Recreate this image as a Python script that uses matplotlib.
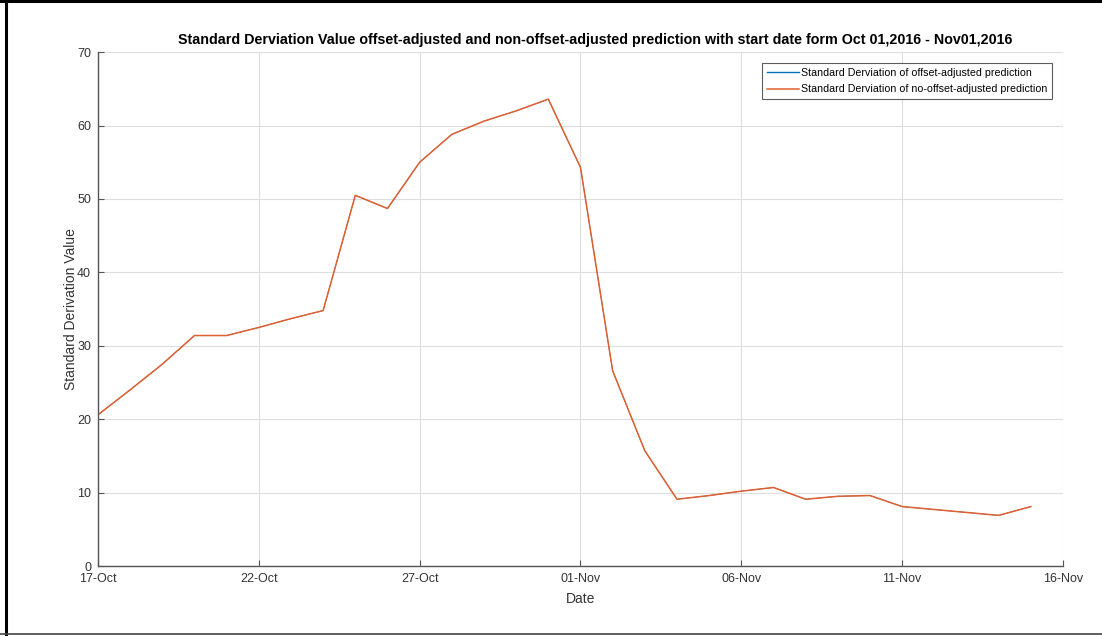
import matplotlib
matplotlib.use("Agg")
import matplotlib.pyplot as plt
import matplotlib.dates as mdates
from matplotlib.lines import Line2D
import datetime as dt

# ---- data ----
dates = ["2016-10-17", "2016-10-18", "2016-10-19", "2016-10-20", "2016-10-21",
         "2016-10-22", "2016-10-23", "2016-10-24", "2016-10-25", "2016-10-26",
         "2016-10-27", "2016-10-28", "2016-10-29", "2016-10-30", "2016-10-31",
         "2016-11-01", "2016-11-02", "2016-11-03", "2016-11-04", "2016-11-05",
         "2016-11-06", "2016-11-07", "2016-11-08", "2016-11-09", "2016-11-10",
         "2016-11-11", "2016-11-12", "2016-11-13", "2016-11-14", "2016-11-15"]
std_offset = [20.6, 24.0, 27.5, 31.4, 31.4, 32.5, 33.7, 34.8, 50.5, 48.7,
              55.0, 58.8, 60.6, 62.0, 63.6, 54.3, 26.6, 15.7, 9.1, 9.6,
              10.2, 10.7, 9.1, 9.5, 9.6, 8.1, 7.7, 7.3, 6.9, 8.1]
std_no_offset = [20.6, 24.0, 27.5, 31.4, 31.4, 32.5, 33.7, 34.8, 50.5, 48.7,
                 55.0, 58.8, 60.6, 62.0, 63.6, 54.3, 26.6, 15.7, 9.1, 9.6,
                 10.2, 10.7, 9.1, 9.5, 9.6, 8.1, 7.7, 7.3, 6.9, 8.1]
labels = ["Standard Derviation of offset-adjusted prediction",
          "Standard Derviation of no-offset-adjusted prediction"]
title = ("Standard Derviation Value offset-adjusted and non-offset-adjusted "
         "prediction with start date form Oct 01,2016 - Nov01,2016")
x = [dt.datetime.strptime(d, "%Y-%m-%d") for d in dates]

plt.rcParams['font.family'] = ['Liberation Sans', 'DejaVu Sans']
TXT = '#333333'

fig = plt.figure(figsize=(11.02, 6.36), dpi=100)
# outer frame of the screenshot (left, top, bottom)
fig.lines.append(Line2D([0.0055, 0.0055], [0.002, 1.0], transform=fig.transFigure,
                        color='black', linewidth=2.2))
fig.lines.append(Line2D([0.0, 1.0], [0.998, 0.998], transform=fig.transFigure,
                        color='black', linewidth=2.2))
fig.lines.append(Line2D([0.0, 1.0], [0.003, 0.003], transform=fig.transFigure,
                        color='#444444', linewidth=1.2))

ax = fig.add_axes([0.0889, 0.110, 0.8757, 0.808])

ax.plot(x, std_offset, color='#0072BD', linewidth=0.5, label=labels[0])
ax.plot(x, std_no_offset, color='#E06030', linewidth=1.1, label=labels[1])

ax.set_xlim(dt.datetime(2016, 10, 17), dt.datetime(2016, 11, 16))
ax.set_ylim(0, 70)
ax.set_yticks(range(0, 71, 10))
ax.set_xticks([dt.datetime(2016, 10, 17) + dt.timedelta(days=5 * i) for i in range(7)])
ax.xaxis.set_major_formatter(mdates.DateFormatter("%d-%b"))

for s in ['top', 'right']:
    ax.spines[s].set_visible(False)
for s in ['left', 'bottom']:
    ax.spines[s].set_color('#555555')
    ax.spines[s].set_linewidth(1.0)
ax.tick_params(direction='in', length=4, width=0.8, color='#555555',
               labelcolor=TXT, labelsize=9, pad=5)
ax.grid(True, color='#dedede', linewidth=0.8)
ax.set_axisbelow(True)

ax.set_title(title, fontsize=10.3, fontweight='bold', color='black', pad=6, x=0.515)
ax.set_xlabel("Date", fontsize=10, color=TXT, labelpad=5)
ax.set_ylabel("Standard Derivation Value", fontsize=10, color=TXT, labelpad=-1)

leg = ax.legend(loc='upper right', bbox_to_anchor=(0.9886, 0.979), fontsize=7.7,
                frameon=True, fancybox=False, handlelength=3.0, handletextpad=0.15,
                borderpad=0.45, labelspacing=0.62, borderaxespad=0.0,
                handleheight=0.7)
leg.get_frame().set_edgecolor('#333333')
leg.get_frame().set_linewidth(0.8)
for t in leg.get_texts():
    t.set_color('black')
leg.get_lines()[0].set_linewidth(1.0)

fig.savefig("out.png", dpi=100)
